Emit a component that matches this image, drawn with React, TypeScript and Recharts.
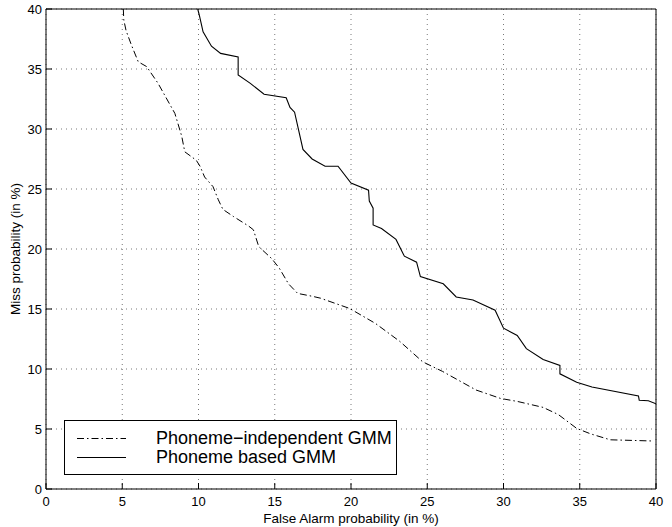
import React from 'react';
import { LineChart, Line, XAxis, YAxis, CartesianGrid, Legend } from 'recharts';

const FONT = '"Liberation Sans", Arial, Helvetica, sans-serif';

const axisTicks = [0, 5, 10, 15, 20, 25, 30, 35, 40];

// Phoneme-independent GMM (dash-dot)
const indepFalseAlarm = [
  5.07, 5.1, 5.25, 5.6, 6.05, 6.6, 7.35, 8.45, 8.9, 9.1, 9.85, 10.1, 10.4, 10.95,
  11.3, 11.6, 12.3, 13.3, 13.6, 13.95, 14.8, 15.3, 15.9, 16.5, 17.5, 18.0, 19.9,
  21.6, 23.2, 24.7, 26.0, 28.2, 29.8, 30.9, 32.6, 33.6, 34.8, 35.7, 37.0, 39.8,
];
const indepMiss = [
  40, 39.1, 38.2, 37.0, 35.6, 35.2, 33.8, 31.3, 29.4, 28.1, 27.4, 26.9, 26.0, 25.2,
  24.1, 23.3, 22.7, 21.9, 21.6, 20.2, 19.2, 18.4, 17.1, 16.3, 16.05, 15.9, 15.05,
  13.8, 12.3, 10.6, 9.8, 8.25, 7.55, 7.3, 6.8, 6.2, 5.05, 4.6, 4.1, 4.0,
];

// Phoneme based GMM (solid)
const basedFalseAlarm = [
  9.95, 10.05, 10.3, 10.85, 11.45, 12.6, 12.6, 13.4, 14.3, 15.75, 16.0, 16.3, 16.85,
  17.45, 18.3, 19.15, 20.0, 21.15, 21.2, 21.45, 21.45, 22.0, 22.95, 23.5, 24.3, 24.55,
  26.05, 26.9, 28.0, 29.45, 30.0, 30.9, 31.5, 32.6, 33.7, 33.7, 34.8, 35.8, 38.85,
  38.9, 39.5, 40,
];
const basedMiss = [
  40, 39.5, 38.1, 36.9, 36.3, 36.0, 34.5, 33.8, 32.9, 32.6, 31.8, 31.4, 28.3,
  27.5, 26.9, 26.9, 25.5, 24.9, 24.0, 23.4, 22.0, 21.7, 20.8, 19.4, 18.9, 17.7,
  17.1, 16.0, 15.75, 14.9, 13.4, 12.8, 11.7, 10.8, 10.3, 9.6, 8.9, 8.5, 7.75,
  7.4, 7.35, 7.1,
];

const seriesNames = ['Phoneme\u2212independent GMM', 'Phoneme based GMM'];
const dashDot = '7 3 1.5 3';

const indepData = indepFalseAlarm.map((fa, i) => ({ fa, miss: indepMiss[i] }));
const basedData = basedFalseAlarm.map((fa, i) => ({ fa, miss: basedMiss[i] }));

const renderLegend = (props: any) => {
  const payload = [...(props.payload || [])].sort(
    (a: any, b: any) => seriesNames.indexOf(a.value) - seriesNames.indexOf(b.value)
  );
  return (
    <div
      style={{
        position: 'relative',
        width: 333,
        height: 55,
        boxSizing: 'border-box',
        border: '1.5px solid #000',
        background: '#fff',
        fontFamily: FONT,
        fontSize: 18,
        color: '#000',
        overflow: 'visible',
      }}
    >
      {payload.map((entry: any, i: number) => (
        <div key={i} style={{ position: 'absolute', left: 0, top: 7 + i * 19, height: 19, width: 400 }}>
          <svg width={60} height={19} style={{ position: 'absolute', left: 11, top: 0 }}>
            <line
              x1={1}
              y1={10.5}
              x2={50}
              y2={10.5}
              stroke="#000"
              strokeWidth={1}
              strokeDasharray={entry.value === seriesNames[0] ? dashDot : undefined}
            />
          </svg>
          <span style={{ position: 'absolute', left: 91, top: 0, lineHeight: '21px', whiteSpace: 'nowrap' }}>
            {entry.value}
          </span>
        </div>
      ))}
    </div>
  );
};

export default function App() {
  return (
    <div style={{ position: 'absolute', left: 0, top: 0, width: 672, height: 527, background: '#fff', fontFamily: FONT }}>
      <LineChart width={672} height={527} margin={{ top: 9, right: 16, bottom: 0, left: 0 }}>
        <CartesianGrid stroke="#555" strokeDasharray="1 4" strokeWidth={0.8} />
        <XAxis
          type="number"
          dataKey="fa"
          domain={[0, 40]}
          ticks={axisTicks}
          allowDataOverflow
          height={38}
          stroke="#000"
          tickSize={-6}
          tickMargin={14}
          tick={{ fill: '#000', fontSize: 13, fontFamily: FONT }}
          label={{
            content: (p: any) => {
              const vb = p.viewBox;
              return (
                <text x={vb.x + vb.width / 2} y={vb.y + 34} textAnchor="middle" fontSize={13.5} fontFamily={FONT} fill="#000">
                  False Alarm probability (in %)
                </text>
              );
            },
          }}
        />
        <YAxis
          type="number"
          domain={[0, 40]}
          ticks={axisTicks}
          allowDataOverflow
          width={46}
          stroke="#000"
          tickSize={-6}
          tickMargin={10}
          tick={{ fill: '#000', fontSize: 13, fontFamily: FONT }}
          label={{
            content: (p: any) => {
              const vb = p.viewBox;
              const cx = vb.x + 15;
              const cy = vb.y + vb.height / 2;
              return (
                <text
                  x={cx}
                  y={cy}
                  transform={`rotate(-90, ${cx}, ${cy})`}
                  textAnchor="middle"
                  dominantBaseline="central"
                  fontSize={13.5}
                  fontFamily={FONT}
                  fill="#000"
                >
                  Miss probability (in %)
                </text>
              );
            },
          }}
        />
        <XAxis
          xAxisId="top"
          orientation="top"
          mirror
          type="number"
          domain={[0, 40]}
          ticks={axisTicks}
          allowDataOverflow
          stroke="#000"
          tickSize={6}
          tick={false}
        />
        <YAxis
          yAxisId="right"
          orientation="right"
          mirror
          type="number"
          domain={[0, 40]}
          ticks={axisTicks}
          allowDataOverflow
          stroke="#000"
          tickSize={6}
          tick={false}
        />
        <Line
          data={indepData}
          dataKey="miss"
          name={seriesNames[0]}
          type="linear"
          stroke="#000"
          strokeWidth={1}
          strokeDasharray={dashDot}
          dot={false}
          activeDot={false}
          isAnimationActive={false}
        />
        <Line
          data={basedData}
          dataKey="miss"
          name={seriesNames[1]}
          type="linear"
          stroke="#000"
          strokeWidth={1.1}
          dot={false}
          activeDot={false}
          isAnimationActive={false}
        />
        <Legend
          layout="vertical"
          align="center"
          verticalAlign="middle"
          content={renderLegend}
          wrapperStyle={{ left: 64, top: 420, width: 333, height: 55 }}
        />
      </LineChart>
    </div>
  );
}
